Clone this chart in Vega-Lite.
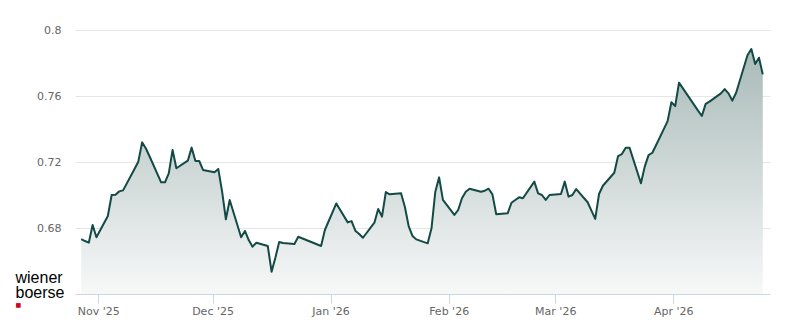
{
  "$schema": "https://vega.github.io/schema/vega-lite/v6.json",
  "width": 695,
  "height": 264,
  "autosize": {"type": "none"},
  "padding": {"left": 75, "top": 30, "right": 30, "bottom": 30},
  "background": "#ffffff",
  "view": {"stroke": null},
  "config": {"font": "DejaVu Sans"},
  "data": {
    "values": [
      {"date": "2025-10-27T12:00Z", "price": 0.6732},
      {"date": "2025-10-28T12:00Z", "price": 0.6721},
      {"date": "2025-10-29T12:00Z", "price": 0.6711},
      {"date": "2025-10-30T12:00Z", "price": 0.6818},
      {"date": "2025-10-31T12:00Z", "price": 0.6744},
      {"date": "2025-11-03T12:00Z", "price": 0.6873},
      {"date": "2025-11-04T12:00Z", "price": 0.7000},
      {"date": "2025-11-05T12:00Z", "price": 0.7002},
      {"date": "2025-11-06T12:00Z", "price": 0.7022},
      {"date": "2025-11-07T12:00Z", "price": 0.7028},
      {"date": "2025-11-10T12:00Z", "price": 0.7157},
      {"date": "2025-11-11T12:00Z", "price": 0.7202},
      {"date": "2025-11-12T12:00Z", "price": 0.7319},
      {"date": "2025-11-13T12:00Z", "price": 0.7282},
      {"date": "2025-11-14T12:00Z", "price": 0.7232},
      {"date": "2025-11-17T12:00Z", "price": 0.7077},
      {"date": "2025-11-18T12:00Z", "price": 0.7077},
      {"date": "2025-11-19T12:00Z", "price": 0.7131},
      {"date": "2025-11-20T12:00Z", "price": 0.7273},
      {"date": "2025-11-21T12:00Z", "price": 0.7162},
      {"date": "2025-11-24T12:00Z", "price": 0.7208},
      {"date": "2025-11-25T12:00Z", "price": 0.7287},
      {"date": "2025-11-26T12:00Z", "price": 0.7206},
      {"date": "2025-11-27T12:00Z", "price": 0.7206},
      {"date": "2025-11-28T12:00Z", "price": 0.7152},
      {"date": "2025-12-01T12:00Z", "price": 0.7138},
      {"date": "2025-12-02T12:00Z", "price": 0.7158},
      {"date": "2025-12-03T12:00Z", "price": 0.7022},
      {"date": "2025-12-04T12:00Z", "price": 0.6853},
      {"date": "2025-12-05T12:00Z", "price": 0.6970},
      {"date": "2025-12-08T12:00Z", "price": 0.6744},
      {"date": "2025-12-09T12:00Z", "price": 0.6782},
      {"date": "2025-12-10T12:00Z", "price": 0.6727},
      {"date": "2025-12-11T12:00Z", "price": 0.6687},
      {"date": "2025-12-12T12:00Z", "price": 0.6711},
      {"date": "2025-12-15T12:00Z", "price": 0.6691},
      {"date": "2025-12-16T12:00Z", "price": 0.6535},
      {"date": "2025-12-17T12:00Z", "price": 0.6620},
      {"date": "2025-12-18T12:00Z", "price": 0.6715},
      {"date": "2025-12-19T12:00Z", "price": 0.6709},
      {"date": "2025-12-22T12:00Z", "price": 0.6703},
      {"date": "2025-12-23T12:00Z", "price": 0.6747},
      {"date": "2025-12-29T12:00Z", "price": 0.6691},
      {"date": "2025-12-30T12:00Z", "price": 0.6788},
      {"date": "2026-01-02T12:00Z", "price": 0.6949},
      {"date": "2026-01-05T12:00Z", "price": 0.6834},
      {"date": "2026-01-06T12:00Z", "price": 0.6842},
      {"date": "2026-01-07T12:00Z", "price": 0.6784},
      {"date": "2026-01-08T12:00Z", "price": 0.6764},
      {"date": "2026-01-09T12:00Z", "price": 0.6741},
      {"date": "2026-01-12T12:00Z", "price": 0.6832},
      {"date": "2026-01-13T12:00Z", "price": 0.6915},
      {"date": "2026-01-14T12:00Z", "price": 0.6869},
      {"date": "2026-01-15T12:00Z", "price": 0.7018},
      {"date": "2026-01-16T12:00Z", "price": 0.7004},
      {"date": "2026-01-19T12:00Z", "price": 0.7010},
      {"date": "2026-01-20T12:00Z", "price": 0.6929},
      {"date": "2026-01-21T12:00Z", "price": 0.6812},
      {"date": "2026-01-22T12:00Z", "price": 0.6752},
      {"date": "2026-01-23T12:00Z", "price": 0.6731},
      {"date": "2026-01-26T12:00Z", "price": 0.6707},
      {"date": "2026-01-27T12:00Z", "price": 0.6798},
      {"date": "2026-01-28T12:00Z", "price": 0.7020},
      {"date": "2026-01-29T12:00Z", "price": 0.7107},
      {"date": "2026-01-30T12:00Z", "price": 0.6970},
      {"date": "2026-02-02T12:00Z", "price": 0.6879},
      {"date": "2026-02-03T12:00Z", "price": 0.6909},
      {"date": "2026-02-04T12:00Z", "price": 0.6980},
      {"date": "2026-02-05T12:00Z", "price": 0.7020},
      {"date": "2026-02-06T12:00Z", "price": 0.7038},
      {"date": "2026-02-09T12:00Z", "price": 0.7020},
      {"date": "2026-02-10T12:00Z", "price": 0.7026},
      {"date": "2026-02-11T12:00Z", "price": 0.7038},
      {"date": "2026-02-12T12:00Z", "price": 0.7004},
      {"date": "2026-02-13T12:00Z", "price": 0.6883},
      {"date": "2026-02-16T12:00Z", "price": 0.6889},
      {"date": "2026-02-17T12:00Z", "price": 0.6953},
      {"date": "2026-02-18T12:00Z", "price": 0.6970},
      {"date": "2026-02-19T12:00Z", "price": 0.6986},
      {"date": "2026-02-20T12:00Z", "price": 0.6980},
      {"date": "2026-02-23T12:00Z", "price": 0.7081},
      {"date": "2026-02-24T12:00Z", "price": 0.7010},
      {"date": "2026-02-25T12:00Z", "price": 0.7000},
      {"date": "2026-02-26T12:00Z", "price": 0.6970},
      {"date": "2026-02-27T12:00Z", "price": 0.7000},
      {"date": "2026-03-02T12:00Z", "price": 0.7006},
      {"date": "2026-03-03T12:00Z", "price": 0.7081},
      {"date": "2026-03-04T12:00Z", "price": 0.6990},
      {"date": "2026-03-05T12:00Z", "price": 0.7000},
      {"date": "2026-03-06T12:00Z", "price": 0.7036},
      {"date": "2026-03-09T12:00Z", "price": 0.6956},
      {"date": "2026-03-10T12:00Z", "price": 0.6905},
      {"date": "2026-03-11T12:00Z", "price": 0.6855},
      {"date": "2026-03-12T12:00Z", "price": 0.7006},
      {"date": "2026-03-13T12:00Z", "price": 0.7056},
      {"date": "2026-03-16T12:00Z", "price": 0.7135},
      {"date": "2026-03-17T12:00Z", "price": 0.7236},
      {"date": "2026-03-18T12:00Z", "price": 0.7248},
      {"date": "2026-03-19T12:00Z", "price": 0.7287},
      {"date": "2026-03-20T12:00Z", "price": 0.7287},
      {"date": "2026-03-23T12:00Z", "price": 0.7071},
      {"date": "2026-03-24T12:00Z", "price": 0.7172},
      {"date": "2026-03-25T12:00Z", "price": 0.7242},
      {"date": "2026-03-26T12:00Z", "price": 0.7256},
      {"date": "2026-03-27T12:00Z", "price": 0.7303},
      {"date": "2026-03-30T12:00Z", "price": 0.7448},
      {"date": "2026-03-31T12:00Z", "price": 0.7562},
      {"date": "2026-04-01T12:00Z", "price": 0.7539},
      {"date": "2026-04-02T12:00Z", "price": 0.7681},
      {"date": "2026-04-07T12:00Z", "price": 0.7511},
      {"date": "2026-04-08T12:00Z", "price": 0.7479},
      {"date": "2026-04-09T12:00Z", "price": 0.7552},
      {"date": "2026-04-10T12:00Z", "price": 0.7566},
      {"date": "2026-04-13T12:00Z", "price": 0.7616},
      {"date": "2026-04-14T12:00Z", "price": 0.7642},
      {"date": "2026-04-15T12:00Z", "price": 0.7616},
      {"date": "2026-04-16T12:00Z", "price": 0.7572},
      {"date": "2026-04-17T12:00Z", "price": 0.7620},
      {"date": "2026-04-20T12:00Z", "price": 0.7848},
      {"date": "2026-04-21T12:00Z", "price": 0.7885},
      {"date": "2026-04-22T12:00Z", "price": 0.7794},
      {"date": "2026-04-23T12:00Z", "price": 0.7832},
      {"date": "2026-04-24T12:00Z", "price": 0.7731}
    ]
  },
  "mark": {
    "type": "area",
    "interpolate": "linear",
    "opacity": 1,
    "color": {
      "gradient": "linear",
      "x1": 0, "y1": 0, "x2": 0, "y2": 1,
      "stops": [
        {"offset": 0, "color": "#a8bab8"},
        {"offset": 1, "color": "#f7f8f8"}
      ]
    },
    "line": {"color": "#134a45", "strokeWidth": 2, "strokeJoin": "round"}
  },
  "encoding": {
    "x": {
      "field": "date",
      "type": "temporal",
      "scale": {"type": "utc", "domain": ["2025-10-25T21:00Z", "2026-04-26T09:30Z"]},
      "axis": {
        "format": "%b '%y",
        "tickCount": {"interval": "month", "step": 1},
        "grid": false,
        "domainColor": "#ccd6eb",
        "domainWidth": 1,
        "tickColor": "#ccd6eb",
        "tickWidth": 1,
        "tickSize": 9,
        "labelPadding": 2,
        "labelFont": "DejaVu Sans",
        "labelFontSize": 11,
        "labelColor": "#666666",
        "labelFlush": false,
        "labelOverlap": false,
        "title": "■",
        "titleColor": "#d0021b",
        "titleFont": "DejaVu Sans",
        "titleFontSize": 6,
        "titleFontWeight": "normal",
        "titleAlign": "left",
        "titleBaseline": "middle",
        "titleAngle": 0,
        "titleX": -60,
        "titleY": 10
      }
    },
    "y": {
      "field": "price",
      "type": "quantitative",
      "scale": {"domain": [0.64, 0.8], "zero": false, "nice": false},
      "axis": {
        "values": [0.68, 0.72, 0.76, 0.8],
        "format": ".2~f",
        "domain": false,
        "ticks": false,
        "tickSize": 0,
        "labelPadding": 14,
        "labelFont": "DejaVu Sans",
        "labelFontSize": 11,
        "labelColor": "#666666",
        "gridColor": "#e6e6e6",
        "gridWidth": 1,
        "title": ["wiener", "boerse"],
        "titleColor": "#000000",
        "titleFont": "Liberation Sans",
        "titleFontSize": 16,
        "titleFontWeight": "normal",
        "titleLineHeight": 15.7,
        "titleAlign": "left",
        "titleBaseline": "alphabetic",
        "titleAngle": 0,
        "titleX": -60,
        "titleY": 252
      }
    },
    "y2": {"datum": 0.64}
  }
}
